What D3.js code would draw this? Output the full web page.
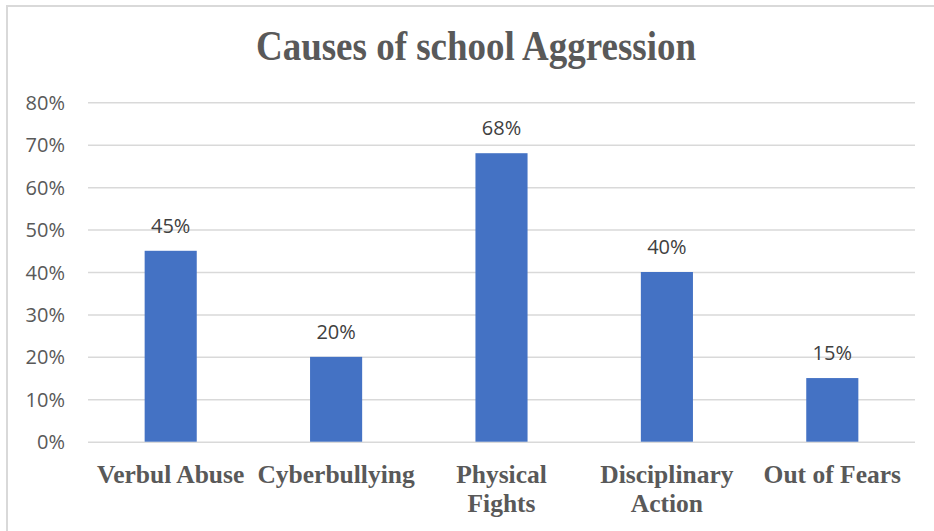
<!DOCTYPE html>
<html>
<head>
<meta charset="utf-8">
<script src="https://cdn.jsdelivr.net/npm/d3@7"></script>
<style>
  html, body { margin: 0; padding: 0; background: #fff; }
  svg { display: block; }
</style>
</head>
<body>
<div id="chart"></div>
<script>
// Data
const categories = ["Verbul Abuse", "Cyberbullying", "Physical Fights", "Disciplinary Action", "Out of Fears"];
const categoryLines = [["Verbul Abuse"], ["Cyberbullying"], ["Physical", "Fights"], ["Disciplinary", "Action"], ["Out of Fears"]];
const values = [0.45, 0.20, 0.68, 0.40, 0.15];
const yTicks = [0, 0.1, 0.2, 0.3, 0.4, 0.5, 0.6, 0.7, 0.8];
const title = "Causes of school Aggression";

const width = 934;
const height = 531;
const stretch = 1.12; // the reference title is a bit taller than wide

const svg = d3.select("#chart")
    .append("svg")
    .attr("width", width)
    .attr("height", height);

// chart frame
svg.append("rect")
    .attr("x", 7)
    .attr("y", 6)
    .attr("width", 960)
    .attr("height", 560)
    .attr("fill", "none")
    .attr("stroke", "#d9d9d9")
    .attr("stroke-width", 2);

// Scales
const x = d3.scaleBand()
    .domain(categories)
    .range([88, 915])
    .paddingInner(0.685)
    .paddingOuter(0.3425);

const y = d3.scaleLinear()
    .domain([0, 0.8])
    .range([441.7, 102.3]);

const pct = d3.format(".0%");

// Title
svg.append("text")
    .attr("transform", `translate(476,60) scale(1,${stretch})`)
    .attr("text-anchor", "middle")
    .style("font-family", "'Liberation Serif', 'Times New Roman', serif")
    .style("font-weight", "bold")
    .style("font-size", "37px")
    .attr("fill", "#595959")
    .text(title);

// Gridlines + y labels
const yAxis = d3.axisLeft(y)
    .tickValues(yTicks)
    .tickSize(-(915 - 88))
    .tickPadding(23)
    .tickFormat(pct);

const gy = svg.append("g")
    .attr("transform", "translate(88,0)")
    .call(yAxis);

gy.select(".domain").remove();
gy.selectAll(".tick line")
    .attr("stroke", "#d9d9d9")
    .attr("stroke-width", 1.5);
gy.selectAll(".tick text")
    .attr("fill", "#595959")
    .attr("dy", "0.35em")
    .style("font-family", "'Open Sans', 'Liberation Sans', sans-serif")
    .style("font-size", "20px");

// Bars
svg.selectAll("rect.bar")
    .data(values)
    .join("rect")
    .attr("class", "bar")
    .attr("x", (d, i) => x(categories[i]))
    .attr("y", d => y(d))
    .attr("width", x.bandwidth())
    .attr("height", d => y(0) - y(d))
    .attr("fill", "#4472c4");

// Data labels
svg.selectAll("text.value")
    .data(values)
    .join("text")
    .attr("class", "value")
    .attr("x", (d, i) => x(categories[i]) + x.bandwidth() / 2)
    .attr("y", d => y(d) - 18)
    .attr("text-anchor", "middle")
    .attr("fill", "#404040")
    .style("font-family", "'Open Sans', 'Liberation Sans', sans-serif")
    .style("font-size", "20px")
    .text(d => pct(d));

// Category labels (wrapped like the reference)
const cat = svg.selectAll("g.cat")
    .data(categoryLines)
    .join("g")
    .attr("class", "cat");

cat.selectAll("text")
    .data((lines, i) => lines.map((t, j) => ({ t, j, cx: x(categories[i]) + x.bandwidth() / 2 })))
    .join("text")
    .attr("x", d => d.cx)
    .attr("y", d => 483 + d.j * 29)
    .attr("text-anchor", "middle")
    .attr("fill", "#595959")
    .style("font-family", "'Liberation Serif', 'Times New Roman', serif")
    .style("font-weight", "bold")
    .style("font-size", "25.5px")
    .text(d => d.t);
</script>
</body>
</html>
